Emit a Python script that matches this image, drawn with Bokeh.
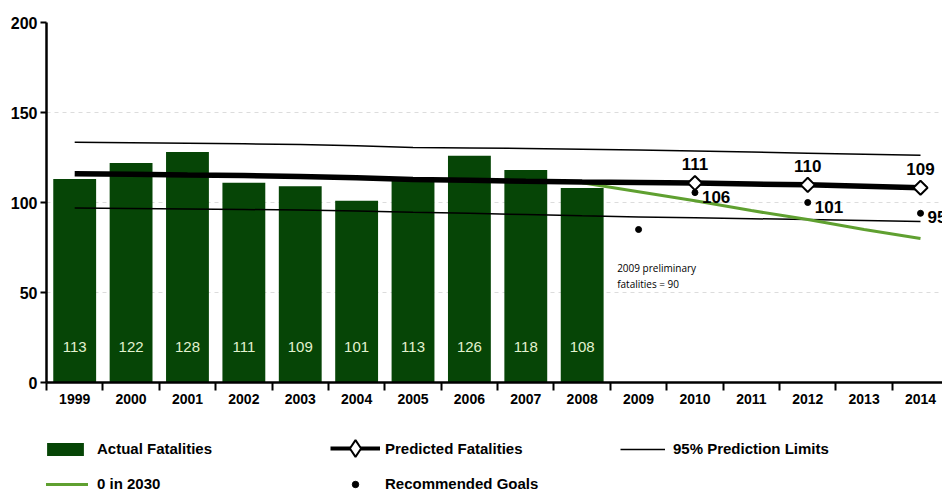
import math
from bokeh.plotting import figure
from bokeh.layouts import column
from bokeh.models import Range1d, FixedTicker, Legend, LegendItem, Label
from bokeh.core.properties import value
from bokeh.embed import file_html
from bokeh.resources import INLINE

# ---------------- data ----------------
years = [1999, 2000, 2001, 2002, 2003, 2004, 2005, 2006, 2007, 2008,
         2009, 2010, 2011, 2012, 2013, 2014]
actual_years = [1999, 2000, 2001, 2002, 2003, 2004, 2005, 2006, 2007, 2008]
actual_fatalities = [113, 122, 128, 111, 109, 101, 113, 126, 118, 108]

predicted = [116.0, 115.7, 115.3, 115.0, 114.5, 113.8, 112.8, 112.3, 111.8, 111.4,
             111.1, 110.8, 110.3, 109.8, 109.0, 108.2]
predicted_marker_years = [2010, 2012, 2014]
predicted_marker_labels = ["111", "110", "109"]

upper_limit = [133.5, 133.2, 132.9, 132.6, 132.2, 131.5, 130.6, 130.3, 130.0, 129.6,
               129.2, 128.6, 128.0, 127.4, 126.8, 126.2]
lower_limit = [97.0, 96.7, 96.4, 96.1, 95.8, 95.3, 94.6, 94.0, 93.3, 92.6,
               92.0, 91.5, 91.0, 90.5, 90.0, 89.4]

zero_2030_years = [2008, 2009, 2010, 2011, 2012, 2013, 2014]
zero_2030 = [111, 106, 101, 95.5, 90.5, 85, 80]

goal_years = [2009, 2010, 2012, 2014]
goals = [85, 105.5, 100, 94]
goal_label_years = [2010, 2012, 2014]
goal_labels = ["106", "101", "95"]

y_ticks = [0, 50, 100, 150, 200]

legend_labels = ["Actual Fatalities", "Predicted Fatalities", "95% Prediction Limits",
                 "0 in 2030", "Recommended Goals"]

# ---------------- styles ----------------
BAR_GREEN = "#064506"
LINE_GREEN = "#5fa030"
LABEL_GREEN = "#e2f2cf"
FONT = "Liberation Sans"

bar_style = dict(fill_color=BAR_GREEN, line_color=None)
limit_style = dict(line_color="black", line_width=1.5)
green_style = dict(line_color=LINE_GREEN, line_width=3)
pred_style = dict(line_color="black", line_width=5.5)
diamond_style = dict(marker="square", angle=math.pi / 4, size=10,
                     fill_color="white", line_color="black", line_width=2)
goal_style = dict(marker="circle", size=6, fill_color="black", line_color="black")

# ---------------- main chart ----------------
p = figure(frame_width=896, frame_height=360,
           x_range=Range1d(1998.5, 2014.39), y_range=Range1d(0, 200),
           output_backend="svg", toolbar_location=None,
           min_border_left=46, min_border_right=0, min_border_top=22,
           min_border_bottom=32)
p.outline_line_color = None
p.background_fill_color = "white"
p.border_fill_color = "white"

p.xgrid.grid_line_color = None
p.ygrid.grid_line_color = "#dcdcdc"
p.ygrid.grid_line_dash = "4 4"
p.ygrid.ticker = FixedTicker(ticks=y_ticks)

# y axis
p.yaxis.ticker = FixedTicker(ticks=y_ticks)
p.yaxis.axis_line_width = 2.5
p.yaxis.axis_line_color = "black"
p.yaxis.major_tick_out = 6
p.yaxis.major_tick_in = 0
p.yaxis.major_tick_line_width = 2
p.yaxis.minor_tick_line_color = None
p.yaxis.major_label_text_font = FONT
p.yaxis.major_label_text_font_style = "bold"
p.yaxis.major_label_text_font_size = "16px"
p.yaxis.major_label_text_color = "black"
p.yaxis.major_label_standoff = 3

# x axis
p.xaxis.ticker = FixedTicker(ticks=years, minor_ticks=[y - 0.5 for y in years] + [years[-1] + 0.5])
p.xaxis.major_label_overrides = {y: str(y) for y in years}
p.xaxis.axis_line_width = 2.5
p.xaxis.axis_line_color = "black"
p.xaxis.major_tick_line_color = None
p.xaxis.major_tick_out = 8
p.xaxis.major_tick_in = 0
p.xaxis.minor_tick_out = 8
p.xaxis.minor_tick_in = 0
p.xaxis.minor_tick_line_width = 2
p.xaxis.minor_tick_line_color = "black"
p.xaxis.major_label_text_font = FONT
p.xaxis.major_label_text_font_style = "bold"
p.xaxis.major_label_text_font_size = "14px"
p.xaxis.major_label_text_color = "black"
p.xaxis.major_label_standoff = 3

# bars
p.vbar(x=actual_years, top=actual_fatalities, width=0.76, **bar_style)
p.text(x=actual_years, y=[19.5] * len(actual_years), text=[str(v) for v in actual_fatalities],
       text_align="center", text_baseline="middle", text_color=LABEL_GREEN,
       text_font=value(FONT), text_font_size="15px")

# prediction limits
p.line(years, upper_limit, **limit_style)
p.line(years, lower_limit, **limit_style)

# 0 in 2030
p.line(zero_2030_years, zero_2030, **green_style)

# predicted
p.line(years, predicted, **pred_style)
pm_y = [predicted[years.index(y)] for y in predicted_marker_years]
p.scatter(predicted_marker_years, pm_y, **diamond_style)
p.text(x=predicted_marker_years, y=pm_y, text=predicted_marker_labels,
       text_align="center", text_baseline="middle", y_offset=-19,
       text_font=value(FONT), text_font_style="bold", text_font_size="17px",
       text_color="black")

# goals
p.scatter(goal_years, goals, **goal_style)
gl_y = [goals[goal_years.index(y)] for y in goal_label_years]
p.text(x=goal_label_years, y=gl_y, text=goal_labels,
       text_align="left", text_baseline="middle", x_offset=7, y_offset=4,
       text_font=value(FONT), text_font_style="bold", text_font_size="17px",
       text_color="black")

# note
p.add_layout(Label(x=2008.62, y=63.5, text="2009 preliminary",
                   text_font="Open Sans", text_font_size="10px",
                   text_baseline="middle", text_color="black"))
p.add_layout(Label(x=2008.62, y=55.0, text="fatalities = 90",
                   text_font="Open Sans", text_font_size="10px",
                   text_baseline="middle", text_color="black"))

# ---------------- legend strip ----------------
# The same series are drawn here, but the ranges keep them out of view: only
# their legend swatches show.
lg = figure(width=942, height=80, x_range=Range1d(0, 1), y_range=Range1d(0, 1),
            x_axis_type=None, y_axis_type=None,
            output_backend="svg", toolbar_location=None,
            min_border_left=0, min_border_right=0, min_border_top=0, min_border_bottom=0)
lg.outline_line_color = None
lg.xgrid.grid_line_color = None
lg.ygrid.grid_line_color = None

r_bar = lg.vbar(x=actual_years, top=actual_fatalities, width=0.76, **bar_style)
r_pred = lg.line(years, predicted, line_color="black", line_width=4)
r_diam = lg.scatter(predicted_marker_years, pm_y, marker="diamond", size=10,
                    fill_color="white", line_color="black", line_width=2)
r_lim = lg.line(years, upper_limit, **limit_style)
r_green = lg.line(zero_2030_years, zero_2030, **green_style)
r_goal = lg.scatter(goal_years, goals, **goal_style)

common = dict(margin=0, padding=0, spacing=18, glyph_width=46, glyph_height=16,
              label_height=16, label_standoff=9,
              border_line_color=None, background_fill_alpha=0,
              label_text_font=FONT, label_text_font_size="15px",
              label_text_font_style="bold", label_text_color="black")

leg_col1 = Legend(items=[
    LegendItem(label=legend_labels[0], renderers=[r_bar]),
    LegendItem(label=legend_labels[3], renderers=[r_green]),
], orientation="vertical", location=(-4, 2), **common)

leg_pred = Legend(items=[
    LegendItem(label=legend_labels[1], renderers=[r_pred, r_diam]),
], orientation="vertical", location=(284, 25),
    **dict(common, glyph_height=42, glyph_width=50, label_standoff=5))

leg_goal = Legend(items=[
    LegendItem(label=legend_labels[4], renderers=[r_goal]),
], orientation="vertical", location=(284, 2), **dict(common, glyph_width=50, label_standoff=5))

leg_lim = Legend(items=[
    LegendItem(label=legend_labels[2], renderers=[r_lim]),
], orientation="vertical", location=(574, 37), **dict(common, glyph_width=45, label_standoff=8))

for leg in (leg_col1, leg_pred, leg_goal, leg_lim):
    lg.add_layout(leg, "center")

layout = column(p, lg, spacing=0)
open("out.html", "w").write(file_html(layout, INLINE))
